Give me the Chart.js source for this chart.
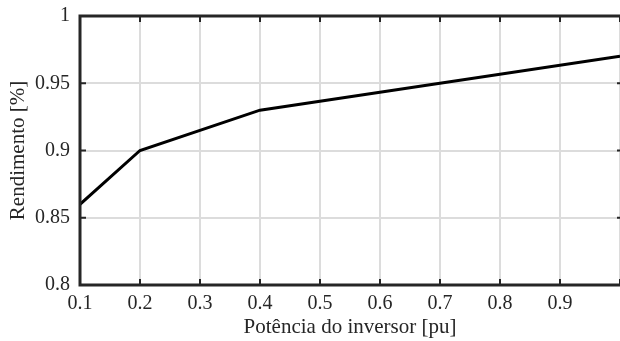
<!DOCTYPE html>
<html>
<head>
<meta charset="utf-8">
<script src="https://cdn.jsdelivr.net/npm/chart.js@4/dist/chart.umd.min.js"></script>
<style>
  html, body { margin: 0; padding: 0; background: #fff; }
  #wrap { width: 620px; height: 341px; }
</style>
</head>
<body>
<div id="wrap"><canvas id="myChart" width="620" height="341"></canvas></div>
<script>
// dados
const potencia = [0.1, 0.2, 0.4, 1.0];
const rendimento = [0.86, 0.90, 0.93, 0.97];
const xTicks = [0.1, 0.2, 0.3, 0.4, 0.5, 0.6, 0.7, 0.8, 0.9, 1.0];
const yTicks = [0.8, 0.85, 0.9, 0.95, 1];

const serif = "'Liberation Serif', 'Times New Roman', serif";

// moldura e ticks para dentro, estilo matlab
const boxPlugin = {
  id: 'box',
  afterDatasetsDraw(chart) {
    const { ctx, chartArea: a, scales } = chart;
    ctx.save();
    ctx.strokeStyle = '#262626';
    ctx.lineWidth = 3;
    ctx.beginPath();
    ctx.moveTo(a.right + 2, a.top);
    ctx.lineTo(a.left, a.top);
    ctx.lineTo(a.left, a.bottom);
    ctx.lineTo(a.right + 2, a.bottom);
    ctx.stroke();
    ctx.lineWidth = 2;
    ctx.beginPath();
    xTicks.forEach(v => {
      const x = scales.x.getPixelForValue(v);
      ctx.moveTo(x, a.bottom);
      ctx.lineTo(x, a.bottom - 6);
      ctx.moveTo(x, a.top);
      ctx.lineTo(x, a.top + 6);
    });
    yTicks.forEach(v => {
      const y = scales.y.getPixelForValue(v);
      ctx.moveTo(a.left, y);
      ctx.lineTo(a.left + 6, y);
      // eixo da direita fica quase fora da imagem
      ctx.moveTo(a.right + 3, y);
      ctx.lineTo(a.right - 3, y);
    });
    ctx.stroke();
    ctx.restore();
  }
};

const ctx = document.getElementById('myChart').getContext('2d');
new Chart(ctx, {
  type: 'line',
  data: {
    datasets: [{
      data: potencia.map((p, i) => ({ x: p, y: rendimento[i] })),
      borderColor: '#000',
      borderWidth: 3,
      pointRadius: 0,
      tension: 0,
      fill: false
    }]
  },
  options: {
    responsive: false,
    animation: false,
    layout: { padding: { top: 16, right: 0, left: 0, bottom: 0 } },
    plugins: { legend: { display: false }, tooltip: { enabled: false } },
    scales: {
      x: {
        type: 'linear',
        min: 0.1,
        max: 1.0,
        afterFit(s) { s.height = 56; s.paddingLeft = 0; s.paddingRight = 0; },
        afterBuildTicks(s) { s.ticks = xTicks.map(v => ({ value: v })); },
        ticks: {
          color: '#262626',
          font: { family: serif, size: 20 },
          padding: 7,
          maxRotation: 0,
          autoSkip: false,
          callback: v => (Math.abs(v - 1) < 1e-9 ? '' : String(Math.round(v * 10) / 10))
        },
        grid: { color: '#dcdcdc', lineWidth: 2, drawTicks: false },
        border: { display: false },
        title: {
          display: true,
          text: 'Potência do inversor [pu]',
          color: '#262626',
          font: { family: serif, size: 21 },
          padding: { top: 0, bottom: 1 }
        }
      },
      y: {
        min: 0.8,
        max: 1,
        afterFit(s) { s.width = 80; s.paddingTop = 0; s.paddingBottom = 0; },
        afterBuildTicks(s) { s.ticks = yTicks.map(v => ({ value: v })); },
        ticks: {
          color: '#262626',
          font: { family: serif, size: 20 },
          padding: 10,
          callback: v => String(Math.round(v * 100) / 100)
        },
        grid: { color: '#dcdcdc', lineWidth: 2, drawTicks: false },
        border: { display: false },
        title: {
          display: true,
          text: 'Rendimento [%]',
          color: '#262626',
          font: { family: serif, size: 21 },
          padding: { top: 6, bottom: 0 }
        }
      }
    }
  },
  plugins: [boxPlugin]
});
</script>
</body>
</html>
